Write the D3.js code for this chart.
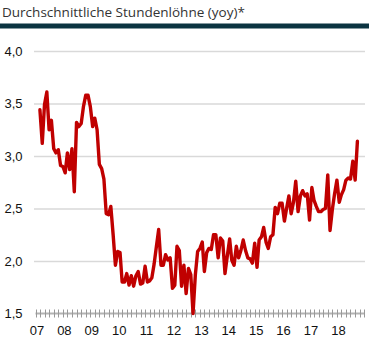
<!DOCTYPE html>
<html>
<head>
<meta charset="utf-8">
<script src="https://cdnjs.cloudflare.com/ajax/libs/d3/7.8.5/d3.min.js"></script>
<style>
  html, body { margin: 0; padding: 0; background: #ffffff; }
  svg { display: block; }
</style>
</head>
<body>
<svg id="chart" width="369" height="346"></svg>
<script>
// Average hourly earnings, year-over-year change in percent, monthly from March 2007
const titleText = "Durchschnittliche Stundenlöhne (yoy)*";
const firstMonth = "2007-03-01";
const wageGrowth = [
  // 2007 (Mar-Dec)
  3.44, 3.12, 3.49, 3.61, 3.25, 3.34, 3.07, 3.03, 3.06, 2.91,
  // 2008
  2.90, 2.84, 3.03, 2.87, 3.07, 2.66, 3.32, 3.28, 3.31, 3.47, 3.58, 3.58,
  // 2009
  3.47, 3.28, 3.36, 3.25, 2.92, 2.88, 2.78, 2.45, 2.44, 2.52, 2.25, 1.96,
  // 2010
  2.09, 2.08, 1.80, 1.80, 1.88, 1.77, 1.86, 1.76, 1.86, 1.90, 1.78, 1.79,
  // 2011
  1.95, 1.80, 1.81, 1.84, 1.97, 2.14, 2.30, 1.96, 1.96, 2.06, 2.01, 2.03,
  // 2012
  1.74, 1.77, 2.14, 2.10, 1.76, 1.96, 1.69, 1.93, 1.87, 1.50, 1.87, 2.09,
  // 2013
  2.12, 2.18, 1.90, 2.08, 2.12, 2.11, 2.25, 2.25, 2.03, 2.22, 2.19, 1.88,
  // 2014
  2.05, 2.21, 2.01, 1.96, 2.14, 2.03, 2.10, 2.20, 2.10, 2.03, 2.02, 1.98,
  // 2015
  2.17, 1.94, 2.20, 2.23, 2.32, 2.18, 2.12, 2.23, 2.25, 2.51, 2.45, 2.55,
  // 2016
  2.55, 2.38, 2.50, 2.62, 2.45, 2.56, 2.76, 2.47, 2.62, 2.67, 2.62, 2.64,
  // 2017
  2.39, 2.70, 2.58, 2.52, 2.47, 2.47, 2.49, 2.50, 2.82, 2.29, 2.49, 2.64,
  // 2018 (Jan-Oct)
  2.77, 2.56, 2.63, 2.68, 2.77, 2.79, 2.78, 2.95, 2.77, 3.14
];
const yearLabels = ["07", "08", "09", "10", "11", "12", "13", "14", "15", "16", "17", "18"];
const yTickValues = [1.5, 2.0, 2.5, 3.0, 3.5, 4.0];

const svg = d3.select("#chart");

// Dates for each monthly observation
const start = new Date(firstMonth + "T00:00:00Z");
const series = wageGrowth.map((v, i) => ({ date: d3.utcMonth.offset(start, i), value: v }));

const x = d3.scaleUtc()
  .domain([new Date("2007-01-01T00:00:00Z"), new Date("2019-01-01T00:00:00Z")])
  .range([35.5, 364.3]);
const y = d3.scaleLinear().domain([1.5, 4.0]).range([313.5, 51]);

// Title and dark rule under it
const title = svg.append("text")
  .attr("x", 2).attr("y", 17)
  .attr("font-family", "'Open Sans', 'Noto Sans', sans-serif")
  .attr("font-size", 15)
  .attr("fill", "#333333")
  .text(titleText);
const tw = title.node().getComputedTextLength();
title.attr("font-size", 15 * 243 / tw);

svg.append("rect")
  .attr("x", 0).attr("y", 23.5)
  .attr("width", 369).attr("height", 5)
  .attr("fill", "#0b3441");

// Horizontal gridlines with value labels
const yAxis = d3.axisLeft(y)
  .tickValues(yTickValues)
  .tickSize(-(365 - 34))
  .tickPadding(12)
  .tickFormat(d => d3.format(".1f")(d).replace(".", ","));

const gy = svg.append("g")
  .attr("transform", "translate(34,0)")
  .call(yAxis);
gy.select(".domain").remove();
gy.selectAll(".tick line")
  .attr("stroke", "#d9d9d9")
  .attr("stroke-width", 1.6)
  .filter(d => d === 1.5).remove();
gy.selectAll(".tick text")
  .attr("x", -11.5)
  .attr("font-family", "'Liberation Sans', Arial, sans-serif")
  .attr("font-size", 13)
  .attr("fill", "#111111");

// Time axis: bimonthly ticks, year labels
const tickDates = d3.utcMonth.every(2).range(
  new Date("2007-01-01T00:00:00Z"), new Date("2019-01-02T00:00:00Z"));

const gx = svg.append("g").attr("transform", `translate(0,${y(1.5)})`);
gx.append("line")
  .attr("x1", x(tickDates[0])).attr("x2", x(tickDates[tickDates.length - 1]))
  .attr("stroke", "#b3b3b3").attr("stroke-width", 2);
gx.selectAll("line.tick")
  .data(tickDates)
  .join("line")
  .attr("class", "tick")
  .attr("x1", d => Math.round(x(d)) + 0.5).attr("x2", d => Math.round(x(d)) + 0.5)
  .attr("y1", -4).attr("y2", 4)
  .attr("stroke", "#999999").attr("stroke-width", 1);

const yearDates = yearLabels.map((lab, i) => ({ lab, date: new Date(Date.UTC(2007 + i, 0, 1)) }));
gx.selectAll("text.year")
  .data(yearDates)
  .join("text")
  .attr("class", "year")
  .attr("x", d => x(d.date) + 1.5)
  .attr("y", 21)
  .attr("text-anchor", "middle")
  .attr("font-family", "'Liberation Sans', Arial, sans-serif")
  .attr("font-size", 13)
  .attr("fill", "#111111")
  .text(d => d.lab);

// Wage growth line
const line = d3.line()
  .x(d => x(d.date))
  .y(d => y(d.value));

svg.append("path")
  .datum(series)
  .attr("d", line)
  .attr("fill", "none")
  .attr("stroke", "#c00000")
  .attr("stroke-width", 3.4)
  .attr("stroke-linejoin", "round")
  .attr("stroke-linecap", "round");
</script>
</body>
</html>
